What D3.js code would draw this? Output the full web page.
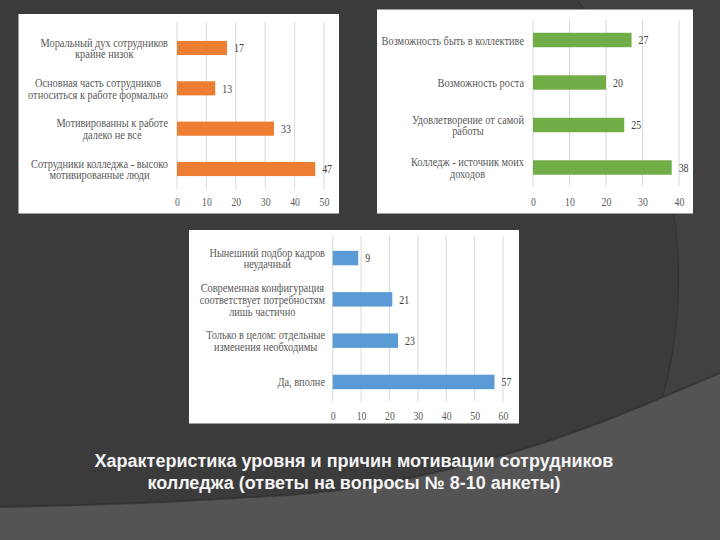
<!DOCTYPE html>
<html><head><meta charset="utf-8">
<script src="https://cdn.jsdelivr.net/npm/d3@7"></script>
<style>html,body{margin:0;padding:0;background:#3b3b3b;}svg{display:block;}</style>
</head><body>
<svg id="c" width="720" height="540"></svg>
<script>
// ---- data ----
const cats1 = ["Моральный дух сотрудников\nкрайне низок",
               "Основная часть сотрудников\nотноситься к работе формально",
               "Мотивированны к работе\nдалеко не все",
               "Сотрудники колледжа - высоко\nмотивированные люди"];
const vals1 = [17, 13, 33, 47];
const ticks1 = [0, 10, 20, 30, 40, 50];

const cats2 = ["Возможность быть в коллективе",
               "Возможность роста",
               "Удовлетворение от самой\nработы",
               "Колледж - источник моих\nдоходов"];
const vals2 = [27, 20, 25, 38];
const ticks2 = [0, 10, 20, 30, 40];

const cats3 = ["Нынешний подбор кадров\nнеудачный",
               "Современная конфигурация\nсоответствует потребностям\nлишь частично",
               "Только в целом: отдельные\nизменения необходимы",
               "Да, вполне"];
const vals3 = [9, 21, 23, 57];
const ticks3 = [0, 10, 20, 30, 40, 50, 60];

const titleLines = ["Характеристика уровня и причин мотивации сотрудников",
                    "колледжа (ответы на вопросы № 8-10 анкеты)"];

// ---- drawing ----
const svg = d3.select("#c");
const W = 720, H = 540;

// horizontal condensing of text, like the reference glyphs
function condense(sel, f) {
  sel.each(function () {
    const w = this.getComputedTextLength();
    d3.select(this).attr("textLength", w * f).attr("lengthAdjust", "spacingAndGlyphs");
  });
}

// background
svg.append("rect").attr("width", W).attr("height", H).attr("fill", "#3b3b3b");
svg.append("path")
  .attr("d", "M577,0 A435,435 0 0 1 592,540 L720,540 L720,0 Z")
  .attr("fill", "#414141");
svg.append("path")
  .attr("d", "M577,0 A435,435 0 0 1 592,540")
  .attr("fill", "none").attr("stroke", "#333").attr("stroke-width", 1.2);
const bandPts = [[0,507],[200,500],[360,487],[520,450],[720,373]];
const bl = d3.line().curve(d3.curveMonotoneX);
svg.append("path")
  .attr("d", bl(bandPts) + "L720,540L0,540Z")
  .attr("fill", "#545454");
svg.append("path")
  .attr("d", bl(bandPts))
  .attr("fill", "none").attr("stroke", "#2f2f2f").attr("stroke-width", 2).attr("opacity", 0.7);

const serif = "'Liberation Serif','Times New Roman',serif";
const txtCol = "#595959";

const charts = [
  {cats: cats1, vals: vals1, ticks: ticks1, color: "#ED7D31",
   panel: [18.5, 14, 320.5, 199.5], xr: [177, 324], yr: [27.8, 189.2], pad: 0.65,
   grid: [22, 189], tickY: 202, labelRight: 168},
  {cats: cats2, vals: vals2, ticks: ticks2, color: "#70AD47",
   panel: [377, 9.5, 316, 204], xr: [533, 679], yr: [18.75, 188.75], pad: 0.66,
   grid: [20, 186], tickY: 202, labelRight: 524},
  {cats: cats3, vals: vals3, ticks: ticks3, color: "#5B9BD5",
   panel: [189, 230, 330, 193.5], xr: [332.7, 503], yr: [237.4, 402.6], pad: 0.65,
   grid: [236, 401], tickY: 416, labelRight: 325}
];

charts.forEach(c => {
  const g = svg.append("g");
  g.append("rect").attr("x", c.panel[0]).attr("y", c.panel[1])
    .attr("width", c.panel[2]).attr("height", c.panel[3]).attr("fill", "#ffffff");
  const x = d3.scaleLinear().domain([c.ticks[0], c.ticks[c.ticks.length - 1]]).range(c.xr);
  const y = d3.scaleBand().domain(c.cats).range(c.yr).paddingInner(c.pad).paddingOuter(c.pad / 2);

  g.selectAll("line.grid").data(c.ticks).join("line")
    .attr("x1", d => x(d)).attr("x2", d => x(d))
    .attr("y1", c.grid[0]).attr("y2", c.grid[1])
    .attr("stroke", "#d9d9d9").attr("stroke-width", 1);

  const ax = g.append("g").attr("transform", `translate(0,${c.tickY - 4})`)
    .call(d3.axisBottom(x).tickValues(c.ticks).tickSize(0).tickPadding(0));
  ax.select(".domain").remove();
  ax.selectAll("text").attr("fill", txtCol).attr("font-family", serif)
    .attr("font-size", 11.5).attr("dy", "0.71em");
  condense(ax.selectAll("text"), 0.85);

  g.selectAll("rect.bar").data(c.cats).join("rect")
    .attr("x", x(0)).attr("y", d => y(d))
    .attr("width", (d, i) => x(c.vals[i]) - x(0))
    .attr("height", y.bandwidth()).attr("fill", c.color);

  const vl = g.selectAll("text.val").data(c.cats).join("text")
    .attr("x", (d, i) => x(c.vals[i]) + 7)
    .attr("y", d => y(d) + y.bandwidth() / 2)
    .attr("dy", "0.35em")
    .attr("font-family", serif).attr("font-size", 12).attr("fill", "#404040")
    .text((d, i) => c.vals[i]);
  condense(vl, 0.82);

  c.cats.forEach(cat => {
    const lines = cat.split("\n");
    const lh = 11.7;
    const cy = y(cat) + y.bandwidth() / 2;
    const t = g.append("text").attr("font-family", serif).attr("font-size", 11.5)
      .attr("fill", txtCol).attr("text-anchor", "end");
    const spans = lines.map((ln, i) => t.append("tspan")
      .attr("x", c.labelRight)
      .attr("y", cy + (i - (lines.length - 1) / 2) * lh + 0.5)
      .attr("dy", "0.35em").text(ln));
    const f = 0.9;
    const ws = spans.map(s => s.node().getComputedTextLength() * f);
    spans.forEach((s, i) => s.attr("textLength", ws[i]).attr("lengthAdjust", "spacingAndGlyphs"));
    const mw = d3.max(ws);
    spans.forEach((s, i) => s.attr("x", c.labelRight - (mw - ws[i]) / 2));
  });
});

// title
svg.append("text")
  .attr("text-anchor", "middle").attr("fill", "#f4f4f4")
  .attr("font-family", "'Liberation Sans',Arial,sans-serif").attr("font-weight", "bold")
  .attr("font-size", 18)
  .selectAll("tspan").data(titleLines).join("tspan")
  .attr("x", 354).attr("y", (d, i) => 461 + i * 21.5).attr("dy", "0.35em").text(d => d);
</script>
</body></html>
